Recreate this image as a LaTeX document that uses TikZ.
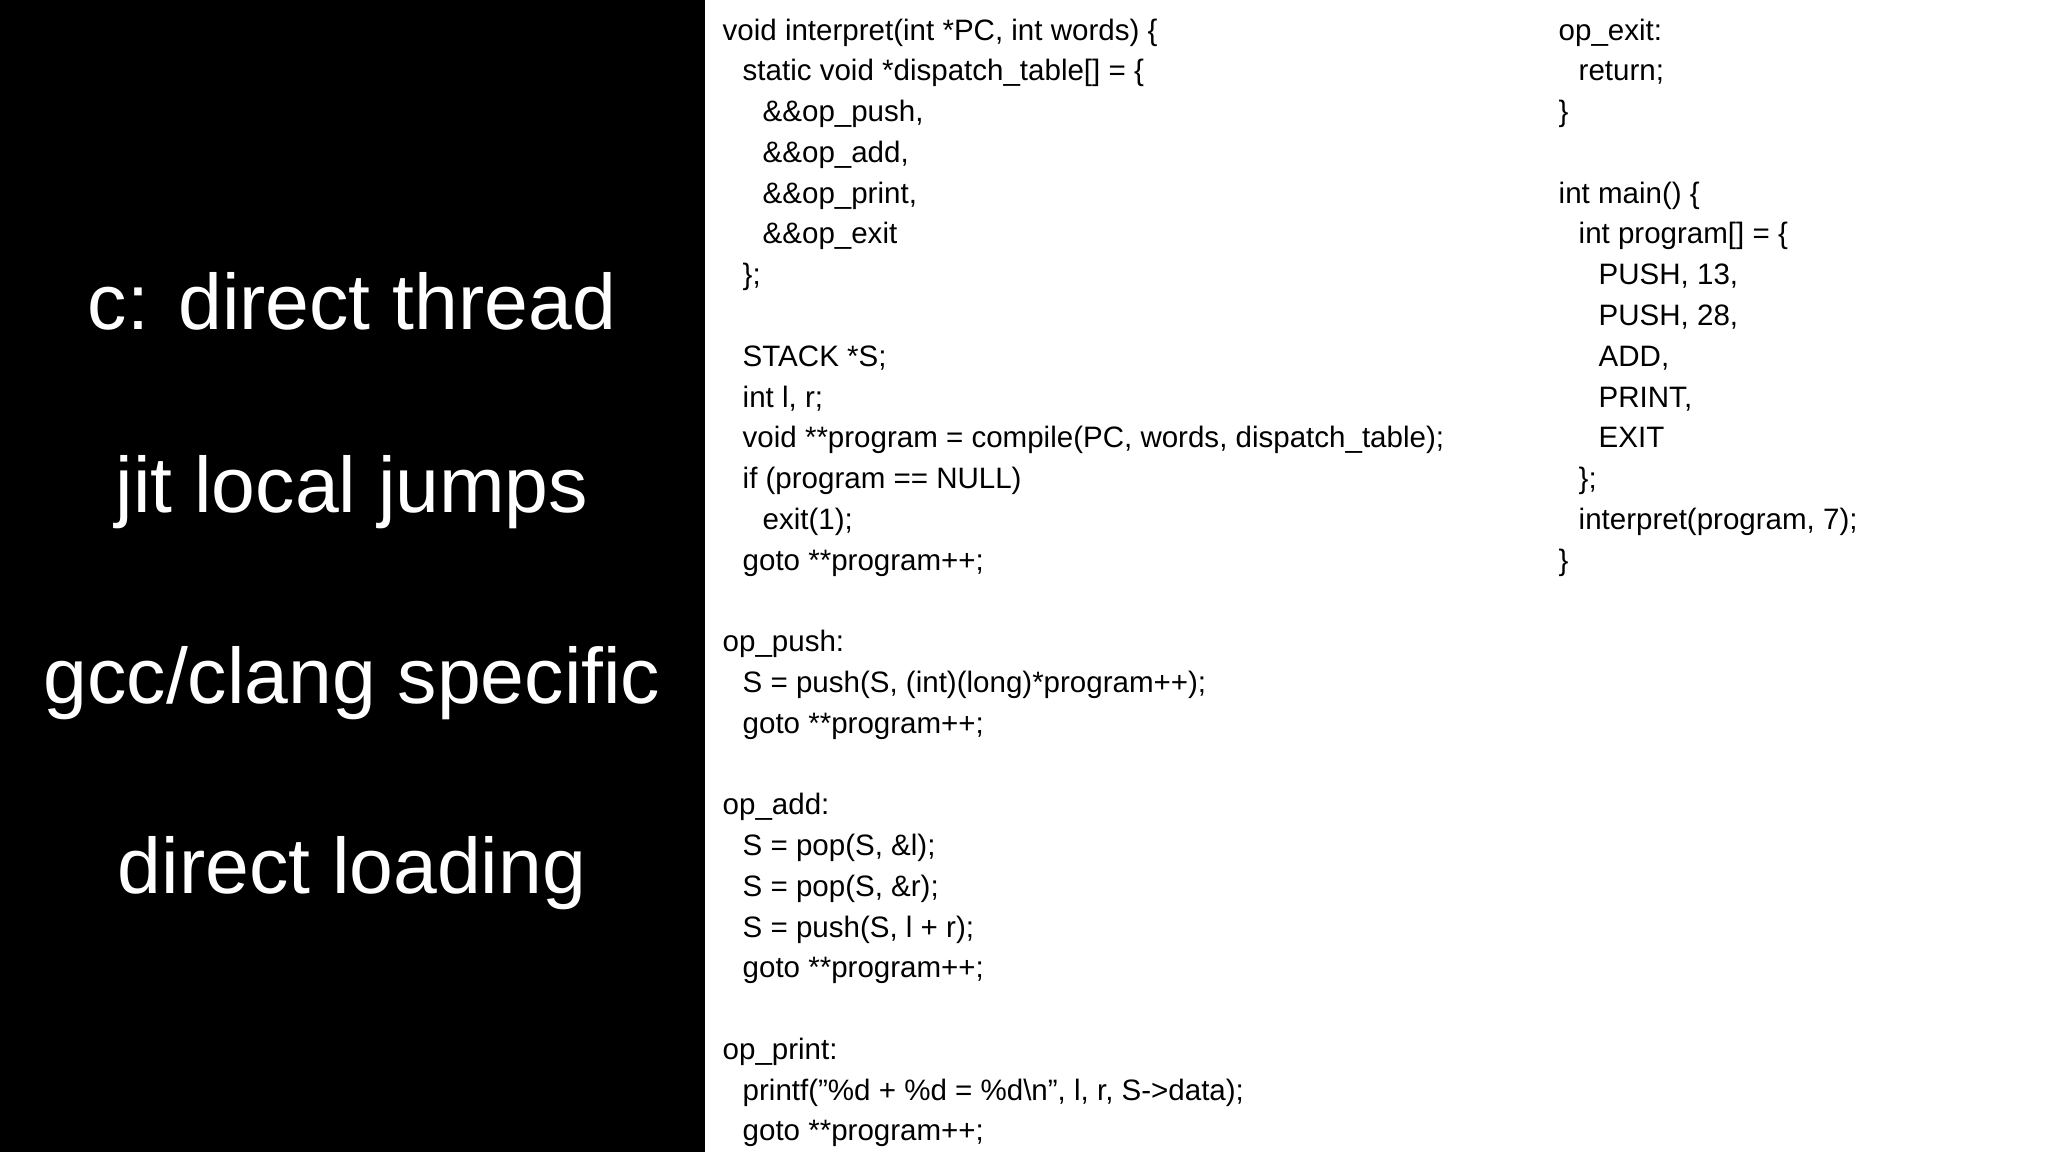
\documentclass[tikz,border=0pt]{standalone}
\usepackage{fontspec}
\setmainfont{Liberation Sans}
\newcommand{\ind}{\hspace*{0.2cm}}
\newcommand{\gap}{\mbox{}}
\begin{document}
\begin{tikzpicture}[%
    slide/.style={font=\fontsize{22.4}{26}\selectfont, text=white},
    code/.style={font=\fontsize{8.4}{11.6}\selectfont, align=left, anchor=north west, inner sep=0pt}]
  \useasboundingbox (0,0) rectangle (20.48,11.52);
  \fill[white] (0,0) rectangle (20.48,11.52);
  \fill[black] (0,0) rectangle (7.05,11.52);
  % left column of notes
  \node[slide] (thread) at (3.52,8.51) {c: direct thread};
  \node[slide] (jumps) at (3.52,6.60) {jit local jumps};
  \node[slide] (gcc) at (3.52,4.69) {gcc/clang specific};
  \node[slide] (loading) at (3.52,2.79) {direct loading};
  % code
  \node[code] (interp) at (7.22,11.34) {%
    void interpret(int *PC, int words) \{\\
    \ind static void *dispatch\_table[] = \{\\
    \ind\ind \&\&op\_push,\\
    \ind\ind \&\&op\_add,\\
    \ind\ind \&\&op\_print,\\
    \ind\ind \&\&op\_exit\\
    \ind \};\\
    \gap\\
    \ind STACK *S;\\
    \ind int l, r;\\
    \ind void **program = compile(PC, words, dispatch\_table);\\
    \ind if (program == NULL)\\
    \ind\ind exit(1);\\
    \ind goto **program++;\\
    \gap\\
    op\_push:\\
    \ind S = push(S, (int)(long)*program++);\\
    \ind goto **program++;\\
    \gap\\
    op\_add:\\
    \ind S = pop(S, \&l);\\
    \ind S = pop(S, \&r);\\
    \ind S = push(S, l + r);\\
    \ind goto **program++;\\
    \gap\\
    op\_print:\\
    \ind printf("\%d + \%d = \%d\textbackslash n", l, r, S->data);\\
    \ind goto **program++;};
  \node[code] (main) at (15.58,11.34) {%
    op\_exit:\\
    \ind return;\\
    \}\\
    \gap\\
    int main() \{\\
    \ind int program[] = \{\\
    \ind\ind PUSH, 13,\\
    \ind\ind PUSH, 28,\\
    \ind\ind ADD,\\
    \ind\ind PRINT,\\
    \ind\ind EXIT\\
    \ind \};\\
    \ind interpret(program, 7);\\
    \}};
\end{tikzpicture}
\end{document}
